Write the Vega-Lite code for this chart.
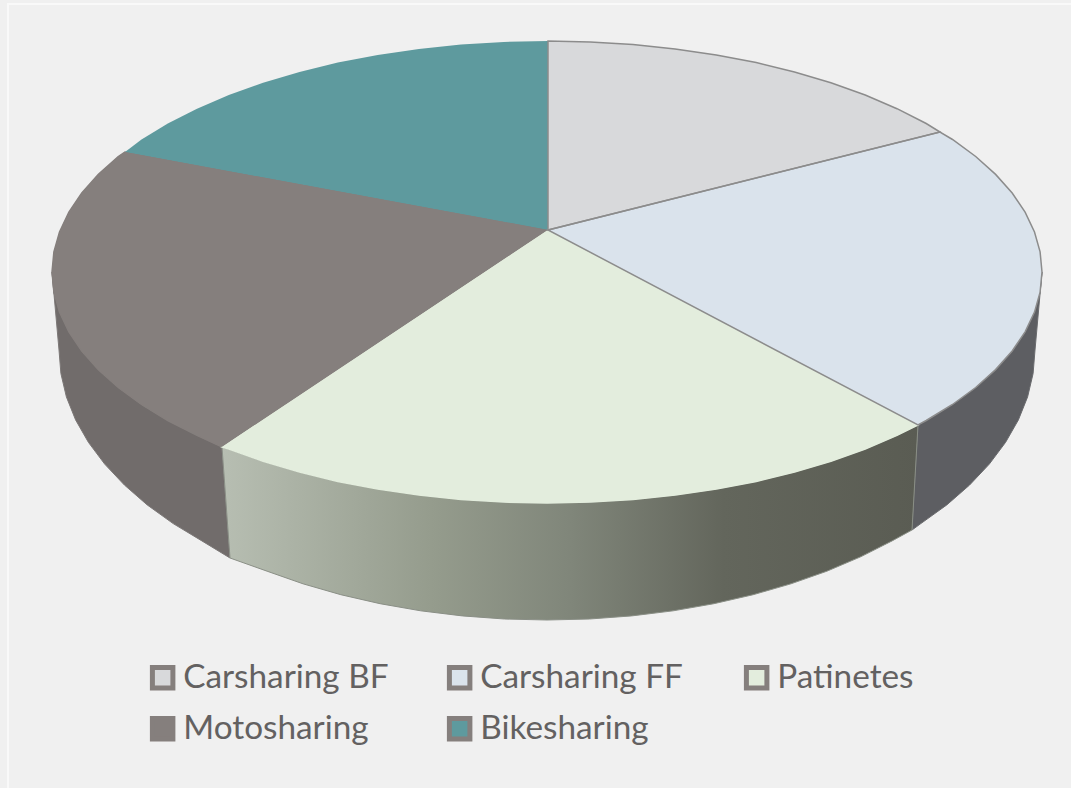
{
"$schema":"https://vega.github.io/schema/vega-lite/v6.json",
"width":1063,"height":784,
"autosize":{"type":"none"},
"padding":{"left":8,"top":4,"right":0,"bottom":0},
"background":"#f0f0f0",
"config":{"view":{"stroke":null}},
"projection":{"type":"identity"},
"data":{"values":[
{"type":"Feature","properties":{"series":"frame","part":"frame"},"geometry":{"type":"LineString","coordinates":[[8,788],[8,4],[1071,4]]}},
{"type":"Feature","properties":{"series":"Carsharing FF","part":"wall"},"geometry":{"type":"Polygon","coordinates":[[[1042,272],[1040.1,292.1],[1034.5,312.1],[1025.1,331.8],[1012.2,351],[995.6,369.6],[975.7,387.5],[952.5,404.5],[926.2,420.5],[918,425],[912,530],[920.8,523.6],[946.8,504.9],[969.6,485],[989.3,464.1],[1005.6,442.3],[1018.4,419.9],[1027.6,396.9],[1033.1,373.5],[1035,350],[1042,272]]]}},
{"type":"Feature","properties":{"series":"Patinetes","part":"wall"},"geometry":{"type":"Polygon","coordinates":[[[918,425],[897,435.3],[865.2,449],[830.9,461.2],[794.5,472],[756.2,481.4],[716.3,489],[675.1,495.1],[633,499.5],[590.2,502.1],[547,503],[503.8,502.1],[461,499.5],[418.9,495.1],[377.7,489],[337.8,481.4],[299.5,472],[263.1,461.2],[228.8,449],[222,447],[230,558],[267.1,571.2],[303,583.8],[340.8,594.7],[380.1,603.7],[420.7,610.8],[462.3,615.9],[504.5,619],[547,620],[589.5,619],[631.7,615.9],[673.3,610.8],[713.9,603.7],[753.2,594.7],[791,583.8],[826.9,571.2],[860.7,556.8],[892.1,540.9],[912,530],[918,425]]]}},
{"type":"Feature","properties":{"series":"Motosharing","part":"wall"},"geometry":{"type":"Polygon","coordinates":[[[222,447],[197,435.3],[167.8,420.5],[141.5,404.5],[118.3,387.5],[98.4,369.6],[81.8,351],[68.9,331.8],[59.5,312],[53.9,292.1],[52,272],[59,350],[60.9,373.5],[66.4,396.9],[75.6,419.9],[88.4,442.3],[104.7,464.1],[124.4,485],[147.2,504.9],[173.2,523.6],[201.9,540.9],[230,558],[222,447]]]}},
{"type":"Feature","properties":{"series":"Bikesharing","part":"top"},"geometry":{"type":"Polygon","coordinates":[[[548,230],[125,152],[141.5,139.5],[167.8,123.5],[197,108.7],[228.8,95],[263.1,82.8],[299.5,72],[337.8,62.6],[377.7,55],[418.9,48.9],[461,44.5],[503.8,41.9],[548,41],[548,230]]]}},
{"type":"Feature","properties":{"series":"Motosharing","part":"top"},"geometry":{"type":"Polygon","coordinates":[[[548,230],[222,447],[197,435.3],[167.8,420.5],[141.5,404.5],[118.3,387.5],[98.4,369.6],[81.8,351],[68.9,331.8],[59.5,312],[53.9,292.1],[52,272],[53.9,251.9],[59.5,232],[68.9,212.2],[81.8,193],[98.4,174.4],[118.3,156.5],[125,152],[548,230]]]}},
{"type":"Feature","properties":{"series":"Patinetes","part":"top"},"geometry":{"type":"Polygon","coordinates":[[[548,230],[918,425],[897,435.3],[865.2,449],[830.9,461.2],[794.5,472],[756.2,481.4],[716.3,489],[675.1,495.1],[633,499.5],[590.2,502.1],[547,503],[503.8,502.1],[461,499.5],[418.9,495.1],[377.7,489],[337.8,481.4],[299.5,472],[263.1,461.2],[228.8,449],[222,447],[548,230]]]}},
{"type":"Feature","properties":{"series":"Carsharing BF","part":"top"},"geometry":{"type":"Polygon","coordinates":[[[548,230],[548,41],[590.2,41.9],[633,44.5],[675.1,48.9],[716.3,55],[756.2,62.6],[794.5,72],[830.9,82.8],[865.2,95],[897,108.7],[926.2,123.5],[940,132],[548,230]]]}},
{"type":"Feature","properties":{"series":"Carsharing FF","part":"top"},"geometry":{"type":"Polygon","coordinates":[[[548,230],[940,132],[952.5,139.5],[975.7,156.5],[995.6,174.4],[1012.2,193],[1025.1,212.2],[1034.5,232],[1040.1,251.9],[1042,272],[1040.1,292.1],[1034.5,312.1],[1025.1,331.8],[1012.2,351],[995.6,369.6],[975.7,387.5],[952.5,404.5],[926.2,420.5],[918,425],[548,230]]]}}
]},
"layer":[
{"transform":[{"filter":"datum.properties.part==='frame'"}],
 "mark":{"type":"geoshape","fill":null,"filled":false,"stroke":"#f9f9f9","strokeWidth":2}},
{"transform":[{"filter":"datum.properties.part==='wall' && datum.properties.series==='Carsharing FF'"}],
 "mark":{"type":"geoshape","fill":"#5d5e62","stroke":"#6a6b6e","strokeWidth":1}},
{"transform":[{"filter":"datum.properties.part==='wall' && datum.properties.series==='Motosharing'"}],
 "mark":{"type":"geoshape","fill":"#716c6b","stroke":"#7c7877","strokeWidth":1}},
{"transform":[{"filter":"datum.properties.part==='wall' && datum.properties.series==='Patinetes'"}],
 "mark":{"type":"geoshape","stroke":"#8a8f86","strokeWidth":1,
  "fill":{"x1":0,"y1":0,"x2":1,"y2":0,"gradient":"linear","stops":[
   {"offset":0,"color":"#b7beb2"},
   {"offset":0.3,"color":"#959c8d"},
   {"offset":0.5,"color":"#80867a"},
   {"offset":0.72,"color":"#63665c"},
   {"offset":1,"color":"#5a5c53"}]}}},
{"transform":[{"filter":"datum.properties.part==='top' && datum.properties.series==='Motosharing'"}],
 "mark":{"type":"geoshape","fill":"#857f7d","stroke":"#857f7d","strokeWidth":1.5}},
{"transform":[{"filter":"datum.properties.part==='top' && datum.properties.series==='Patinetes'"}],
 "mark":{"type":"geoshape","fill":"#e3eddd","stroke":"#e3eddd","strokeWidth":1.5}},
{"transform":[{"filter":"datum.properties.part==='top'"}],
 "mark":{"type":"geoshape"},
 "encoding":{
  "color":{"field":"properties.series","type":"nominal",
   "scale":{"domain":["Carsharing BF","Carsharing FF","Patinetes","Motosharing","Bikesharing"],"range":["#d8d9db","#dae3ec","#e3eddd","#857f7d","#5e9a9e"]},
   "legend":{"title":null,"orient":"none","direction":"horizontal","legendX":138,"legendY":657,"columns":3,"gridAlign":"all","columnPadding":50,"rowPadding":10,
    "symbolType":"square","symbolSize":420,"symbolStrokeWidth":5,"symbolStrokeColor":"#857f7d","symbolOpacity":1,
    "labelFont":"Lato","labelFontSize":33.3,"labelColor":"#636161","labelLimit":400,"labelOffset":4}}}},
{"transform":[{"filter":"datum.properties.part==='top' && (datum.properties.series==='Carsharing BF' || datum.properties.series==='Carsharing FF')"}],
 "mark":{"type":"geoshape","fill":null,"filled":false,"stroke":"#8c8c8c","strokeWidth":1.5}}
]
}
